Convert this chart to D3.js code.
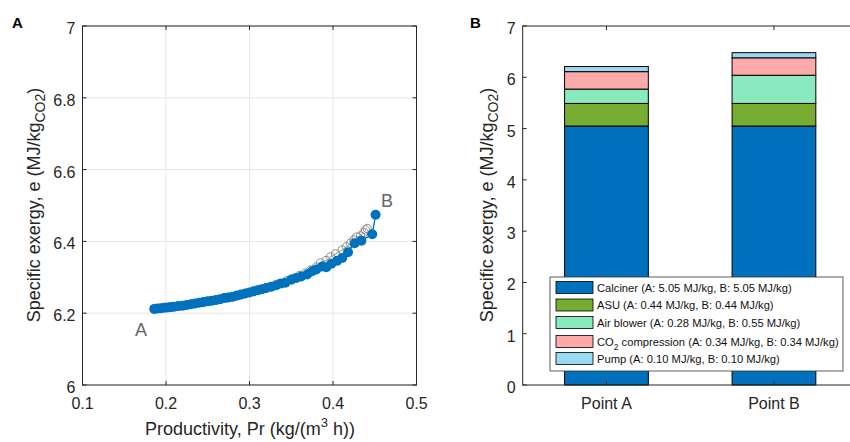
<!DOCTYPE html>
<html>
<head>
<meta charset="utf-8">
<script src="https://cdn.jsdelivr.net/npm/d3@7"></script>
<style>
  body { margin: 0; background: #fff; }
  svg { font-family: "Liberation Sans", Arial, sans-serif; }
</style>
</head>
<body>
<svg id="chart" width="850" height="442"></svg>
<script>
// panel A - blue series (productivity vs specific exergy)
const prBlue = [0.186,0.190,0.194,0.198,0.202,0.206,0.210,0.215,0.220,0.225,0.230,0.235,0.240,0.245,0.250,0.255,0.260,0.265,0.270,0.275,0.280,0.285,0.290,0.295,0.300,0.305,0.310,0.315,0.320,0.326,0.332,0.338,0.343,0.350,0.356,0.362,0.369,0.375,0.380,0.387,0.392,0.398,0.405,0.411,0.418,0.426,0.434,0.447,0.451];
const eBlue = [6.212,6.213,6.214,6.215,6.216,6.217,6.218,6.220,6.221,6.223,6.225,6.227,6.229,6.231,6.233,6.235,6.237,6.239,6.242,6.244,6.246,6.249,6.252,6.255,6.258,6.261,6.264,6.267,6.270,6.274,6.278,6.283,6.285,6.293,6.298,6.302,6.308,6.317,6.322,6.330,6.328,6.338,6.346,6.354,6.370,6.395,6.402,6.420,6.474];
// panel A - grey series (open circles)
const prGrey = [0.186,0.200,0.215,0.230,0.245,0.260,0.275,0.290,0.305,0.320,0.335,0.345,0.352,0.360,0.367,0.373,0.380,0.385,0.392,0.397,0.403,0.411,0.416,0.421,0.425,0.428,0.433,0.437,0.439,0.441];
const eGrey = [6.212,6.216,6.220,6.225,6.231,6.237,6.244,6.252,6.261,6.271,6.282,6.291,6.297,6.305,6.312,6.320,6.329,6.340,6.347,6.357,6.365,6.376,6.385,6.395,6.404,6.412,6.415,6.425,6.432,6.436];
const xTicksA = [0.1,0.2,0.3,0.4,0.5];
const yTicksA = [6,6.2,6.4,6.6,6.8,7];

// panel B - stacked bars
const points = ["Point A","Point B"];
const components = ["Calciner","ASU","Air blower","CO2 compression","Pump"];
const valuesA = [5.05,0.44,0.28,0.34,0.10];
const valuesB = [5.05,0.44,0.55,0.34,0.10];
const compColors = ["#0072BD","#77AC30","#8BE9BE","#FFAAAA","#99D9F2"];
const yTicksB = [0,1,2,3,4,5,6,7];

const svg = d3.select('#chart');
const axisCol = '#262626';

function grid(g, x, y, xt, yt) {
  const [x0, x1] = x.range();
  const [y0, y1] = y.range();
  g.selectAll('.gx').data(xt).enter().append('line')
    .attr('x1', d => x(d)).attr('x2', d => x(d)).attr('y1', y0).attr('y2', y1)
    .attr('stroke', '#e6e6e6');
  g.selectAll('.gy').data(yt).enter().append('line')
    .attr('y1', d => y(d)).attr('y2', d => y(d)).attr('x1', x0).attr('x2', x1)
    .attr('stroke', '#e6e6e6');
}

function frame(g, x, y, xt, yt, xfmt, yfmt) {
  const [x0, x1] = x.range();
  const [y0, y1] = y.range();
  g.append('rect').attr('x', x0).attr('y', y1).attr('width', x1 - x0).attr('height', y0 - y1)
    .attr('fill', 'none').attr('stroke', axisCol).attr('stroke-width', 1);
  xt.forEach(t => {
    g.append('line').attr('x1', x(t)).attr('x2', x(t)).attr('y1', y0).attr('y2', y0 - 4).attr('stroke', axisCol);
    g.append('line').attr('x1', x(t)).attr('x2', x(t)).attr('y1', y1).attr('y2', y1 + 4).attr('stroke', axisCol);
    g.append('text').attr('x', x(t)).attr('y', y0 + 24).attr('text-anchor', 'middle')
      .attr('font-size', 16).attr('fill', axisCol).text(xfmt(t));
  });
  yt.forEach(t => {
    g.append('line').attr('x1', x0).attr('x2', x0 + 4).attr('y1', y(t)).attr('y2', y(t)).attr('stroke', axisCol);
    g.append('line').attr('x1', x1).attr('x2', x1 - 4).attr('y1', y(t)).attr('y2', y(t)).attr('stroke', axisCol);
    g.append('text').attr('x', x0 - 7).attr('y', y(t) + 8).attr('text-anchor', 'end')
      .attr('font-size', 16).attr('fill', axisCol).text(yfmt(t));
  });
}

function ylabel(g, cx, cy) {
  const t = g.append('text').attr('transform', `translate(${cx},${cy}) rotate(-90)`)
    .attr('text-anchor', 'middle').attr('font-size', 18).attr('fill', axisCol);
  t.append('tspan').text('Specific exergy, e (MJ/kg');
  t.append('tspan').attr('font-size', 14).attr('dy', 5).text('CO2');
  t.append('tspan').attr('dy', -5).text(')');
}

// ---------- panel A ----------
const gA = svg.append('g');
const xA = d3.scaleLinear().domain([0.1, 0.5]).range([82.5, 416.5]);
const yA = d3.scaleLinear().domain([6, 7]).range([385, 26]);
grid(gA, xA, yA, xTicksA, yTicksA);

const greyPts = prGrey.map((p, i) => [p, eGrey[i]]);
const bluePts = prBlue.map((p, i) => [p, eBlue[i]]);
const line = d3.line().x(d => xA(d[0])).y(d => yA(d[1]));

gA.append('path').attr('d', line(greyPts)).attr('fill', 'none').attr('stroke', '#8c8c8c').attr('stroke-width', 1);
gA.selectAll('.grey').data(greyPts).enter().append('circle')
  .attr('cx', d => xA(d[0])).attr('cy', d => yA(d[1])).attr('r', 4.2)
  .attr('fill', 'none').attr('stroke', '#8c8c8c').attr('stroke-width', 1);

gA.append('path').attr('d', line(bluePts)).attr('fill', 'none').attr('stroke', '#0072BD').attr('stroke-width', 1.3);
gA.selectAll('.blue').data(bluePts).enter().append('circle')
  .attr('cx', d => xA(d[0])).attr('cy', d => yA(d[1])).attr('r', 5)
  .attr('fill', '#0072BD');

frame(gA, xA, yA, xTicksA, yTicksA, d => d3.format('.1f')(d), d => (d === 6 || d === 7) ? String(d) : d3.format('.1f')(d));

gA.append('text').attr('x', 141).attr('y', 336).attr('text-anchor', 'middle')
  .attr('font-size', 18).attr('fill', '#666').text('A');
gA.append('text').attr('x', 387).attr('y', 207).attr('text-anchor', 'middle')
  .attr('font-size', 18).attr('fill', '#666').text('B');

const xl = gA.append('text').attr('x', 250).attr('y', 435).attr('text-anchor', 'middle')
  .attr('font-size', 18).attr('fill', axisCol);
xl.append('tspan').text('Productivity, Pr (kg/(m');
xl.append('tspan').attr('font-size', 13).attr('dy', -8).text('3');
xl.append('tspan').attr('dy', 8).text(' h))');
ylabel(gA, 40, 205);

svg.append('text').attr('x', 12).attr('y', 28).attr('font-size', 15).attr('font-weight', 'bold').text('A');

// ---------- panel B ----------
const gB = svg.append('g');
const xB = d3.scaleLinear().domain([0.5, 2.5]).range([522.7, 857.7]);
const yB = d3.scaleLinear().domain([0, 7]).range([385, 26]);

const rows = points.map((p, i) => {
  const vals = i === 0 ? valuesA : valuesB;
  const r = {point: p, idx: i + 1};
  components.forEach((c, j) => r[c] = vals[j]);
  return r;
});
const stack = d3.stack().keys(components)(rows);

gB.selectAll('.layer').data(stack).enter().append('g')
  .attr('fill', (d, i) => compColors[i])
  .selectAll('rect').data(d => d).enter().append('rect')
  .attr('x', d => xB(d.data.idx - 0.25))
  .attr('width', xB(1.25) - xB(0.75))
  .attr('y', d => yB(d[1]))
  .attr('height', d => yB(d[0]) - yB(d[1]))
  .attr('stroke', '#000').attr('stroke-width', 1);

frame(gB, xB, yB, [1, 2], yTicksB, d => points[d - 1], d => String(d));
ylabel(gB, 493, 205);

// legend
const lg = gB.append('g');
lg.append('rect').attr('x', 550).attr('y', 277).attr('width', 293).attr('height', 94)
  .attr('fill', '#fff').attr('stroke', '#333').attr('stroke-width', 0.8);
const rowY = [287.5, 305, 322.5, 341.5, 358.5];
components.forEach((c, j) => {
  lg.append('rect').attr('x', 556).attr('y', rowY[j] - 6).attr('width', 37).attr('height', 12)
    .attr('fill', compColors[j]).attr('stroke', '#000').attr('stroke-width', 0.8);
  const t = lg.append('text').attr('x', 597).attr('y', rowY[j] + 4)
    .attr('font-size', 11.2).attr('fill', '#111');
  const tail = ` (A: ${valuesA[j].toFixed(2)} MJ/kg, B: ${valuesB[j].toFixed(2)} MJ/kg)`;
  if (c === 'CO2 compression') {
    t.append('tspan').text('CO');
    t.append('tspan').attr('font-size', 8.5).attr('dy', 4).text('2');
    t.append('tspan').attr('dy', -4).text(' compression' + tail);
  } else {
    t.text(c + tail);
  }
});

svg.append('text').attr('x', 470).attr('y', 28).attr('font-size', 15).attr('font-weight', 'bold').text('B');
</script>
</body>
</html>
